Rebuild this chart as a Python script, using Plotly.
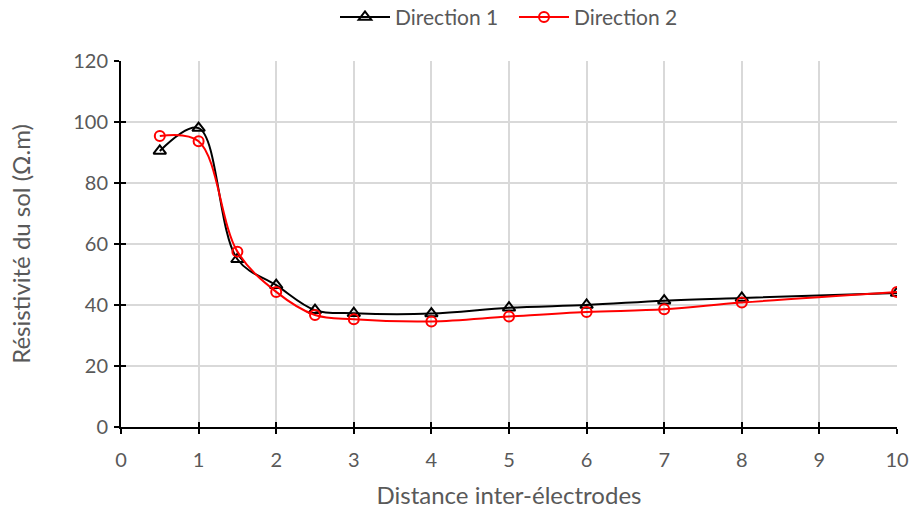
import plotly.graph_objects as go

distance = [0.5, 1, 1.5, 2, 2.5, 3, 4, 5, 6, 7, 8, 10]
direction_1 = [90.5, 98, 55, 46.5, 38.3, 37.3, 37.2, 39.1, 40, 41.4, 42.3, 43.9]
direction_2 = [95.4, 93.7, 57.5, 44.3, 36.7, 35.3, 34.6, 36.2, 37.7, 38.6, 40.8, 44.3]
x_ticks = list(range(0, 11))
y_ticks = list(range(0, 121, 20))

FONT = "Lato, 'Open Sans', sans-serif"
GREY = "#595959"

fig = go.Figure()
fig.add_trace(go.Scatter(
    x=distance, y=direction_1, name="Direction 1\u00a0\u00a0", mode="lines+markers",
    line=dict(color="black", width=2, shape="spline", smoothing=1),
    marker=dict(symbol="triangle-up-open", size=11, color="black", line=dict(width=2)),
))
fig.add_trace(go.Scatter(
    x=distance, y=direction_2, name="Direction 2", mode="lines+markers",
    line=dict(color="#ff0000", width=2, shape="spline", smoothing=1),
    marker=dict(symbol="circle-open", size=10, color="#ff0000", line=dict(width=2)),
))
# invisible trace on overlay axes used to draw the inner half of the crossing ticks
fig.add_trace(go.Scatter(x=[x_ticks[0]], y=[y_ticks[0]], xaxis="x2", yaxis="y2",
                         mode="markers", marker=dict(opacity=0), showlegend=False,
                         hoverinfo="skip"))

axis_common = dict(showline=True, linecolor="black", linewidth=2,
                   ticks="outside", ticklen=5, tickwidth=2, tickcolor="black",
                   gridcolor="#d9d9d9", gridwidth=2, zeroline=False, automargin=False,
                   tickfont=dict(family=FONT, size=20, color=GREY))

fig.update_layout(
    width=911, height=510,
    margin=dict(l=121, r=14, t=61, b=83),
    paper_bgcolor="white", plot_bgcolor="white",
    font=dict(family=FONT, color=GREY),
    xaxis=dict(range=[0, 10], tickvals=x_ticks, ticklabelstandoff=9, **axis_common,
               title=dict(text="Distance inter-électrodes",
                          font=dict(family=FONT, size=24, color=GREY), standoff=17)),
    yaxis=dict(range=[0, 120], tickvals=y_ticks, ticklabelstandoff=2, **axis_common,
               title=dict(text="Résistivité du sol (Ω.m)",
                          font=dict(family=FONT, size=24, color=GREY), standoff=36)),
    xaxis2=dict(range=[0, 10], tickvals=x_ticks, overlaying="x", anchor="y2",
                ticks="inside", ticklen=5, tickwidth=2, tickcolor="black",
                showticklabels=False, showgrid=False, zeroline=False, showline=False),
    yaxis2=dict(range=[0, 120], tickvals=y_ticks, overlaying="y", anchor="x2",
                ticks="inside", ticklen=5, tickwidth=2, tickcolor="black",
                showticklabels=False, showgrid=False, zeroline=False, showline=False),
    legend=dict(orientation="h", x=0.5, xanchor="center", y=0.966, yanchor="middle",
                yref="container", font=dict(family=FONT, size=21, color=GREY),
                itemwidth=50, bgcolor="rgba(0,0,0,0)"),
    showlegend=True,
)

fig.write_html("out.html")
